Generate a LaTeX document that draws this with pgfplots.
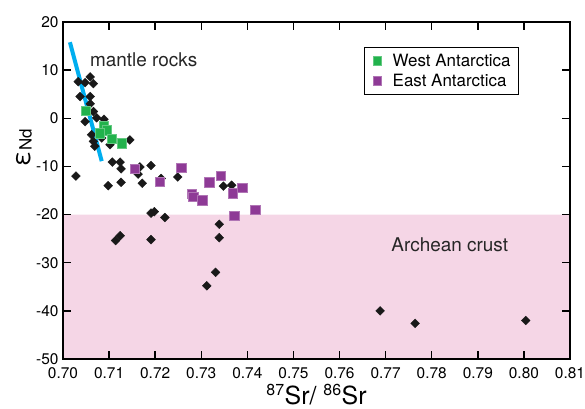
\documentclass[border=0pt]{standalone}
\usepackage{fontspec}
\setmainfont{TeX Gyre Heros}
\usepackage{pgfplots}
\pgfplotsset{compat=1.18}
\definecolor{crust}{RGB}{245,214,230}
\definecolor{westg}{RGB}{34,178,76}
\definecolor{eastp}{RGB}{142,58,150}
\definecolor{mantle}{RGB}{0,174,239}
\begin{document}
\begin{tikzpicture}
\useasboundingbox (-63bp,-50bp) rectangle (522bp,359bp);
\begin{axis}[
  scale only axis, width=507bp, height=337bp,
  xmin=0.70, xmax=0.81, ymin=-50, ymax=20,
  xtick={0.70,0.71,0.72,0.73,0.74,0.75,0.76,0.77,0.78,0.79,0.80,0.81},
  ytick={-50,-40,-30,-20,-10,0,10,20},
  tick align=inside, tick pos=both,
  major tick length=8bp,
  every tick/.style={line width=1.5bp, black},
  axis line style={line width=2.5bp},
  axis on top,
  /pgf/number format/assume math mode=true,
  xticklabel style={yshift=-5bp, /pgf/number format/fixed, /pgf/number format/fixed zerofill, /pgf/number format/precision=2},
  yticklabel style={xshift=-1bp},
  ticklabel style={font=\fontsize{15.5}{18}\selectfont},
  xlabel={\textsuperscript{\fontsize{16}{18}\selectfont 87}Sr/ \textsuperscript{\fontsize{16}{18}\selectfont 86}Sr},
  xlabel style={at={(rel axis cs:0.5,0)}, anchor=base, yshift=-45bp, inner sep=0pt, font=\fontsize{25}{28}\selectfont},
  ylabel={{\fontsize{25}{28}\selectfont ε}\raisebox{-0.35ex}{\fontsize{17}{20}\selectfont Nd}},
  ylabel style={at={(axis description cs:-0.077,0.627)}, anchor=center},
  legend style={at={(0.594,0.926)}, anchor=north west, draw=black, line width=1bp,
    font=\fontsize{17}{20}\selectfont, inner xsep=5bp, inner ysep=4bp, row sep=1bp,
    nodes={inner sep=2.5bp}},
  legend image code/.code={\path (0cm,0cm) (0.69cm,0cm); \draw[#1, mark size=4.2bp] plot coordinates {(0.25cm,0cm)};},
  legend cell align=left,
]
\addplot[fill=crust, draw=none, forget plot] coordinates {(0.70,-50) (0.81,-50) (0.81,-20) (0.70,-20)} \closedcycle;
\addplot[only marks, mark=diamond*, mark size=4.4bp, mark options={xscale=1.333, fill=black!90, draw=black!90}, forget plot] coordinates {
(0.7033,7.6) (0.7059,8.6) (0.7048,7.4) (0.7066,7.2) (0.7037,4.5) (0.7059,4.5) (0.7059,3.0)
(0.7066,1.4) (0.7073,0.1) (0.7048,-0.7) (0.7089,-0.2) (0.7062,-3.4) (0.7066,-4.8) (0.7069,-5.8)
(0.7102,-5.5) (0.7084,-4.1) (0.7145,-4.5) (0.7028,-12.0) (0.7098,-14.0) (0.7107,-9.1) (0.7124,-9.1)
(0.7126,-10.5) (0.7126,-13.3) (0.7167,-10.1) (0.7163,-11.6) (0.7172,-13.5) (0.7191,-9.8)
(0.7213,-12.5) (0.7249,-12.2) (0.7348,-14.1) (0.7366,-13.9) (0.7191,-19.7) (0.7198,-19.4)
(0.7221,-20.6) (0.7114,-25.4) (0.7124,-24.4) (0.7191,-25.2) (0.7339,-22.0) (0.7339,-24.8)
(0.7331,-32.0) (0.7312,-34.8) (0.7688,-40.0) (0.7764,-42.6) (0.8004,-42.0)
};
\addplot[only marks, mark=square*, mark size=4.7bp, mark options={fill=westg, draw=westg!70!white, line width=0.6bp}] coordinates {
(0.7050,1.6) (0.7089,-1.7) (0.7095,-2.5) (0.7080,-3.1) (0.7106,-4.3) (0.7127,-5.2)
};
\addlegendentry{West Antarctica}
\addplot[only marks, mark=square*, mark size=4.7bp, mark options={fill=eastp, draw=eastp!70!white, line width=0.6bp}] coordinates {
(0.7156,-10.5) (0.7210,-13.2) (0.7257,-10.3) (0.7279,-15.7) (0.7283,-16.3) (0.7302,-17.0)
(0.7317,-13.3) (0.7343,-11.9) (0.7369,-15.6) (0.7389,-14.4) (0.7372,-20.3) (0.7417,-19.0)
};
\addlegendentry{East Antarctica}
\addplot[mantle, line width=4bp, forget plot] coordinates {(0.7015,15.8) (0.7084,-8.9)};
\node[anchor=base west, font=\fontsize{19}{22}\selectfont, text=black!85] at (axis cs:0.7051,10.7) {mantle rocks};
\node[anchor=base west, font=\fontsize{19}{22}\selectfont, text=black!85] at (axis cs:0.7705,-27.6) {Archean crust};
\end{axis}
\end{tikzpicture}
\end{document}
